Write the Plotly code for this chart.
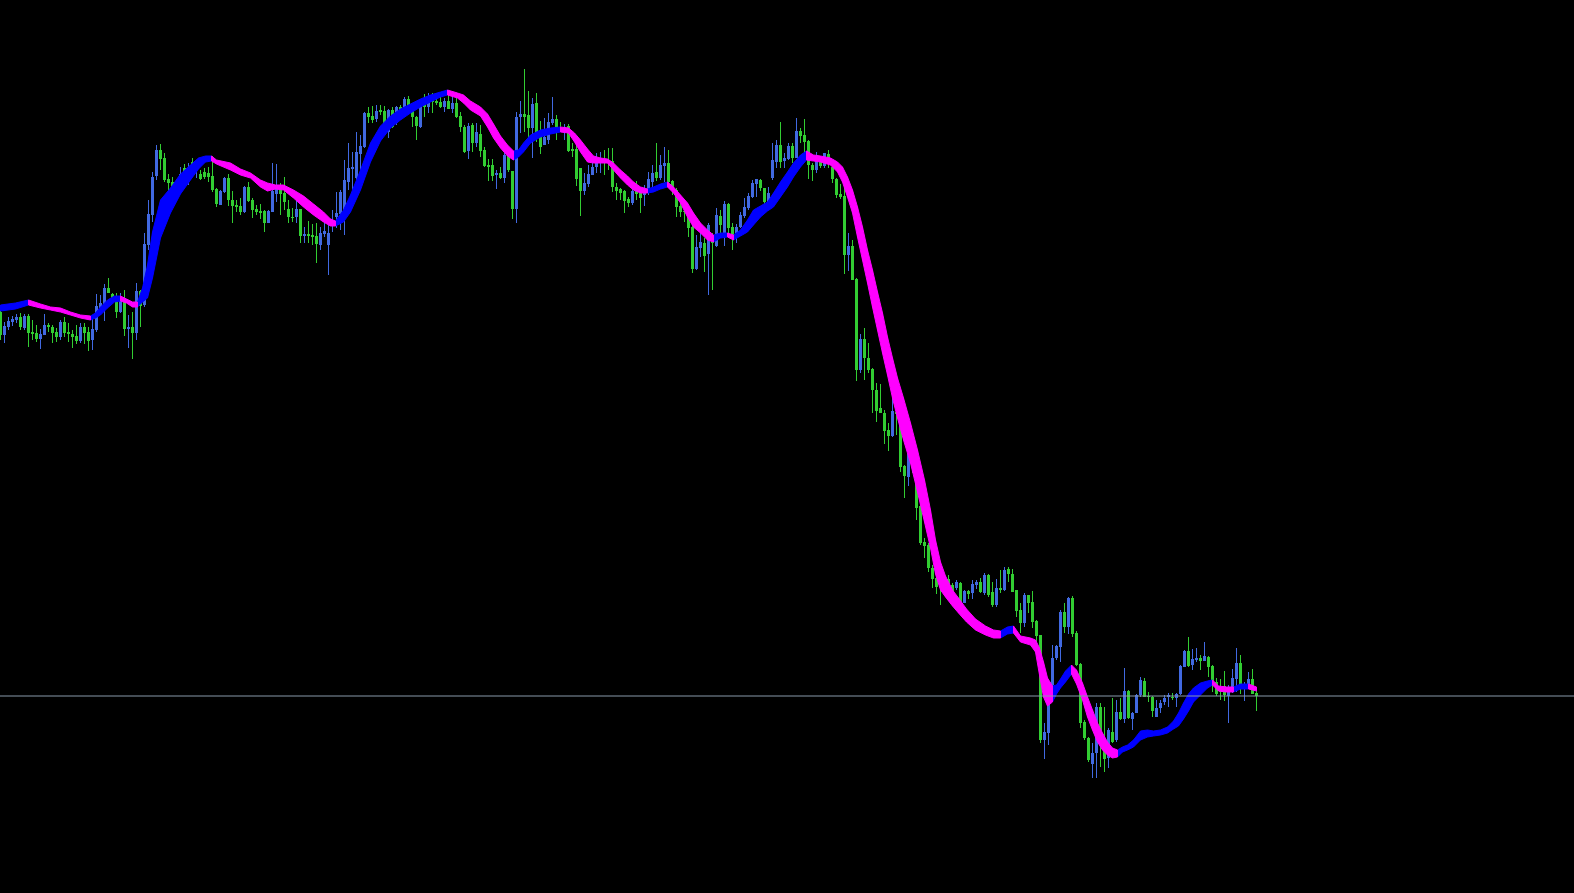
import plotly.graph_objects as go

# Candle data (price points), one value per bar, oldest first
opens = [688,665,673,678,680,683,672,684,668,667,
         661,665,675,673,668,663,678,668,666,664,
         659,673,668,660,670,692,696,712,706,703,
         688,701,671,673,667,709,695,755,785,824,
         850,842,821,818,815,822,832,827,838,830,
         826,828,827,824,811,795,808,822,800,795,
         794,788,813,800,791,789,789,777,788,806,
         813,807,791,783,783,791,764,766,765,764,
         755,766,755,775,783,786,790,818,831,822,
         846,853,887,884,881,890,889,868,890,877,
         893,890,901,890,883,873,897,893,901,899,
         898,893,899,891,897,884,873,849,875,857,
         866,850,835,835,825,827,822,846,829,791,
         883,886,885,872,897,868,855,860,877,881,
         872,870,874,851,851,832,809,816,825,833,
         838,841,840,839,813,811,809,801,797,809,
         807,805,808,818,828,822,834,837,819,810,
         794,789,789,773,731,752,757,746,758,754,
         784,767,796,773,763,773,784,792,803,816,
         820,812,797,822,838,855,839,841,854,842,
         869,865,859,835,830,842,834,846,833,821,
         806,804,745,754,721,630,661,642,631,610,
         592,587,570,564,588,587,534,523,548,533,
         494,458,455,432,422,414,421,421,415,412,
         417,397,409,407,415,418,407,425,408,395,
         412,410,431,426,410,390,377,405,398,379,
         365,260,267,315,342,353,388,373,402,367,
         336,278,262,236,247,293,258,242,268,260,
         288,281,309,281,287,305,319,304,303,283,
         292,298,303,303,302,306,333,349,335,340,
         342,339,343,334,318,312,314,304,308,321,
         337,311,315,321,307]
highs = [695,678,683,684,686,687,686,686,680,675,
         671,686,677,675,672,680,683,677,670,675,
         677,677,673,685,706,705,716,722,707,707,
         707,710,685,688,717,710,767,800,828,855,
         856,847,826,823,820,833,836,837,842,840,
         830,832,833,844,812,810,823,826,809,800,
         802,814,818,802,795,796,790,790,837,836,
         817,823,800,792,801,791,773,779,776,777,
         773,778,782,790,808,810,840,857,848,868,
         865,888,893,894,895,895,894,891,893,894,
         895,903,904,893,884,898,906,907,907,907,
         907,902,907,903,903,888,875,877,877,877,
         875,853,841,841,830,833,847,852,829,888,
         899,931,909,902,907,879,882,887,903,885,
         878,876,876,857,857,832,827,835,839,847,
         848,850,852,852,817,812,810,803,817,819,
         808,815,828,835,857,845,853,850,820,812,
         797,795,793,777,765,768,762,777,767,792,
         790,799,797,777,776,788,802,807,820,821,
         821,812,813,857,860,878,847,857,857,882,
         872,881,860,837,848,844,847,850,835,822,
         816,814,767,760,722,666,672,657,632,617,
         616,590,577,605,607,597,535,550,558,537,
         497,462,457,435,425,420,422,425,417,420,
         418,410,410,420,420,422,427,426,418,421,
         430,433,433,431,410,397,407,405,409,380,
         365,277,317,355,355,390,397,403,404,369,
         337,280,263,257,297,297,293,272,302,300,
         302,332,310,288,306,323,322,308,304,300,
         300,305,307,307,307,335,350,363,351,352,
         345,358,344,335,322,321,329,315,331,352,
         345,318,328,331,312]
lows = [660,657,670,674,677,670,670,653,660,658,
        651,665,668,657,658,660,663,658,652,656,
        657,656,649,650,668,688,679,707,697,682,
        687,664,652,641,660,673,693,750,778,820,
        830,818,808,807,808,815,820,815,823,822,
        820,821,818,808,793,795,807,794,777,788,
        785,787,798,782,785,781,768,777,788,798,
        785,790,777,778,777,757,757,757,755,737,
        750,763,725,768,772,770,765,810,810,820,
        817,852,877,877,878,885,869,862,872,875,
        885,888,887,873,860,872,883,887,887,895,
        892,888,891,887,882,868,847,841,848,853,
        843,833,819,819,811,821,817,828,781,777,
        867,868,858,842,858,846,855,856,875,860,
        868,860,848,843,814,784,805,813,825,827,
        827,825,830,808,800,800,787,793,795,800,
        787,794,805,810,819,820,818,815,805,783,
        783,778,763,727,730,743,728,705,710,753,
        767,754,763,750,757,772,782,790,802,803,
        809,795,795,820,832,832,832,840,837,842,
        857,840,821,819,827,832,832,832,817,802,
        801,726,729,720,619,627,620,627,587,578,
        587,556,549,563,565,528,502,514,527,480,
        455,442,428,412,406,395,407,407,403,410,
        396,397,401,401,411,407,405,403,393,393,
        407,409,418,408,383,367,373,387,372,353,
        257,241,255,313,340,338,367,366,363,334,
        272,260,238,222,222,233,228,232,257,258,
        280,277,281,270,287,303,303,298,283,283,
        287,295,293,300,293,305,333,333,330,338,
        330,339,323,308,304,300,299,277,307,308,
        306,299,315,306,289]
closes = [665,674,679,681,683,673,684,667,666,661,
          666,675,673,667,663,678,667,666,663,659,
          673,667,659,671,694,697,712,707,699,688,
          701,671,673,667,709,694,756,786,823,850,
          841,820,817,810,811,826,825,832,828,837,
          821,823,823,810,796,809,822,800,794,793,
          788,813,799,790,788,787,777,789,809,814,
          806,798,783,782,791,764,766,764,763,756,
          767,769,767,780,787,808,820,832,833,848,
          854,887,883,880,889,888,872,890,873,893,
          888,901,889,883,874,897,893,900,898,897,
          893,899,891,897,883,873,848,874,857,868,
          849,834,833,824,827,822,845,830,791,883,
          886,883,872,896,865,853,863,878,881,870,
          869,873,849,849,821,809,817,826,833,842,
          842,839,839,813,809,807,799,797,809,806,
          802,810,821,827,822,835,837,818,810,793,
          788,788,772,731,753,758,744,775,757,785,
          775,796,772,762,773,785,793,804,817,821,
          812,798,807,840,855,838,842,854,842,869,
          864,858,835,830,842,834,847,838,821,805,
          803,745,754,720,630,661,642,630,610,589,
          587,569,564,589,586,533,524,547,533,492,
          457,454,432,421,413,413,413,408,407,418,
          397,409,406,416,418,408,425,405,395,412,
          410,430,426,408,389,377,405,397,378,364,
          260,268,315,342,354,388,373,402,366,335,
          277,262,240,247,293,257,241,270,258,288,
          281,309,282,287,305,320,303,303,289,292,
          297,302,305,302,306,334,349,334,341,342,
          339,344,333,318,306,308,305,309,322,337,
          312,316,321,306,304]

# Trend band (moving-average ribbon):
# position in bars, upper and lower edge in price points
band_pos = [0, 3.75, 7, 10, 12.5, 15, 17.5, 20, 22.5, 23.75,
            25, 26.75, 28.5, 30, 31.5, 33, 34.25, 35.5, 36.75, 38,
            40, 42.5, 45, 47.5, 49.5, 51.25, 52.75, 54, 57.5, 60,
            62.5, 65, 66.75, 68.75, 70.75, 73.25, 75.75, 78.25, 80.75, 82.5,
            83.75, 85.75, 87.5, 90, 92.5, 95, 97.5, 100, 102.5, 105,
            107.5, 110, 111.75, 114.25, 115.75, 117.5, 120, 121.75, 123.25, 125,
            126.75, 128.25, 129.5, 130.75, 132.5, 135, 137.5, 140, 142, 143.5,
            145, 146.75, 148.25, 150, 151.75, 153.25, 155, 156.75, 158.25, 160,
            161.75, 163.25, 165, 166.75, 168.25, 170, 171.75, 173.25, 175, 176.75,
            178.25, 180, 181.75, 183.25, 185, 186.75, 188.25, 190, 191.75, 193.25,
            195, 196.75, 198.25, 200, 201.5, 203.25, 205, 207.5, 209.25, 210.5,
            211.75, 213, 214.25, 215.5, 216.75, 218, 219.25, 220.5, 221.75, 223,
            224.25, 225.75, 227.5, 229.25, 231, 232.5, 233.75, 235, 236.25, 238,
            239.5, 241.5, 243.75, 246.25, 248.25, 250, 251.75, 253.25, 255, 257.5,
            258.75, 259.75, 260.75, 261.75, 263, 264, 265, 266.25, 267.75, 269,
            270.5, 271.75, 273, 274.25, 275.5, 276.75, 278, 279.25, 280.5, 281.75,
            283.25, 285, 286.75, 288.25, 290, 291.75, 293.25, 294.5, 295.75, 297,
            298.25, 300, 301.75, 303, 304.5, 306.5, 308.25, 310, 312, 314]
band_upper = [695, 697, 700, 696, 693, 692, 688, 685, 684, 687,
              693, 700, 704, 704, 701, 698, 698, 712, 735, 768,
              800, 812, 826, 835, 842, 844, 844, 840, 837, 831,
              827, 820, 817, 815, 815, 810, 804, 796, 788, 781,
              779, 790, 805, 830, 857, 874, 884, 891, 896, 901,
              905, 908, 910, 907, 905, 899, 893, 886, 876, 864,
              855, 849, 850, 857, 865, 870, 872, 873, 872, 867,
              860, 851, 844, 842, 841, 837, 830, 824, 818, 813,
              811, 813, 816, 818, 813, 805, 797, 787, 777, 770,
              765, 767, 767, 765, 770, 780, 790, 794, 798, 807,
              818, 828, 837, 845, 849, 845, 844, 842, 838, 833,
              823, 810, 793, 773, 750, 730, 708, 687, 663, 642,
              622, 602, 577, 550, 520, 490, 460, 438, 424, 410,
              402, 391, 381, 374, 370, 369, 373, 374, 364, 362,
              360, 352, 338, 322, 314, 315, 321, 329, 335, 330,
              317, 303, 290, 277, 267, 258, 252, 250, 253, 255,
              260, 269, 270, 269, 270, 273, 279, 287, 297, 306,
              312, 317, 319, 320, 314, 313, 313, 316, 316, 313]
band_lower = [689, 691, 695, 692, 690, 688, 685, 682, 680, 682,
              685, 692, 698, 699, 697, 693, 693, 698, 702, 722,
              762, 787, 806, 820, 831, 838, 839, 836, 830, 825,
              822, 813, 809, 811, 810, 802, 793, 785, 778, 774,
              774, 778, 788, 810, 838, 859, 872, 880, 887, 893,
              898, 903, 905, 902, 897, 890, 884, 873, 862, 852,
              844, 840, 843, 848, 857, 863, 866, 868, 867, 858,
              848, 838, 837, 837, 837, 830, 822, 815, 810, 807,
              807, 808, 811, 813, 807, 797, 783, 773, 767, 760,
              758, 762, 763, 760, 764, 768, 775, 783, 789, 793,
              803, 813, 823, 833, 840, 839, 838, 835, 828, 818,
              803, 787, 763, 740, 717, 693, 670, 647, 625, 602,
              582, 560, 537, 508, 478, 452, 426, 410, 403, 394,
              387, 378, 370, 365, 362, 362, 366, 367, 358, 355,
              348, 325, 303, 294, 298, 306, 312, 318, 326, 316,
              300, 283, 270, 258, 250, 245, 242, 243, 248, 250,
              253, 260, 263, 264, 265, 267, 271, 274, 281, 289,
              298, 305, 312, 315, 309, 308, 308, 311, 311, 309]

BULL = "#4169E1"
BEAR = "#32CD32"
UP_BAND = "#0000FF"
DN_BAND = "#FF00FF"
BID_LINE = "#8899AA"

n = len(closes)
idx = list(range(n))

# split the ribbon into rising (blue) and falling (magenta) pieces
polys = {True: ([], []), False: ([], [])}
mid = [(u + l) / 2 for u, l in zip(band_upper, band_lower)]
up = True
for k in range(1, len(band_pos)):
    if mid[k] != mid[k - 1]:
        up = mid[k] > mid[k - 1]
    xs, ys = polys[up]
    a, b = band_pos[k - 1], band_pos[k]
    xs += [a, b, b, a, a, None]
    ys += [band_upper[k - 1], band_upper[k], band_lower[k], band_lower[k - 1],
           band_upper[k - 1], None]

fig = go.Figure()

for is_bull, col in ((True, BULL), (False, BEAR)):
    sel = [i for i in idx if (closes[i] >= opens[i]) == is_bull]
    fig.add_trace(go.Bar(
        x=sel, base=[lows[i] for i in sel],
        y=[highs[i] - lows[i] for i in sel],
        width=0.25, marker=dict(color=col, line=dict(width=0)),
        hoverinfo="skip"))
    fig.add_trace(go.Bar(
        x=sel, base=[min(opens[i], closes[i]) for i in sel],
        y=[max(abs(closes[i] - opens[i]), 1) for i in sel],
        width=0.75, marker=dict(color=col, line=dict(width=0)),
        hoverinfo="skip"))

for key, col in ((True, UP_BAND), (False, DN_BAND)):
    xs, ys = polys[key]
    fig.add_trace(go.Scatter(
        x=xs, y=ys, mode="lines", fill="toself", fillcolor=col,
        line=dict(color=col, width=1), connectgaps=False,
        hoverinfo="skip"))

fig.add_shape(type="line", xref="paper", x0=0, x1=1, yref="y",
              y0=closes[-1], y1=closes[-1],
              line=dict(color=BID_LINE, width=1))

fig.update_layout(
    width=1574, height=893,
    margin=dict(l=0, r=0, t=0, b=0),
    paper_bgcolor="black", plot_bgcolor="black",
    barmode="overlay", showlegend=False,
    xaxis=dict(range=[-0.125, 393.375], visible=False, fixedrange=True),
    yaxis=dict(range=[107, 1000], visible=False, fixedrange=True),
)

fig.write_html(
    "out.html",
    config={"displayModeBar": False},
    post_script="document.body.style.margin='0';document.body.style.background='black';",
)
